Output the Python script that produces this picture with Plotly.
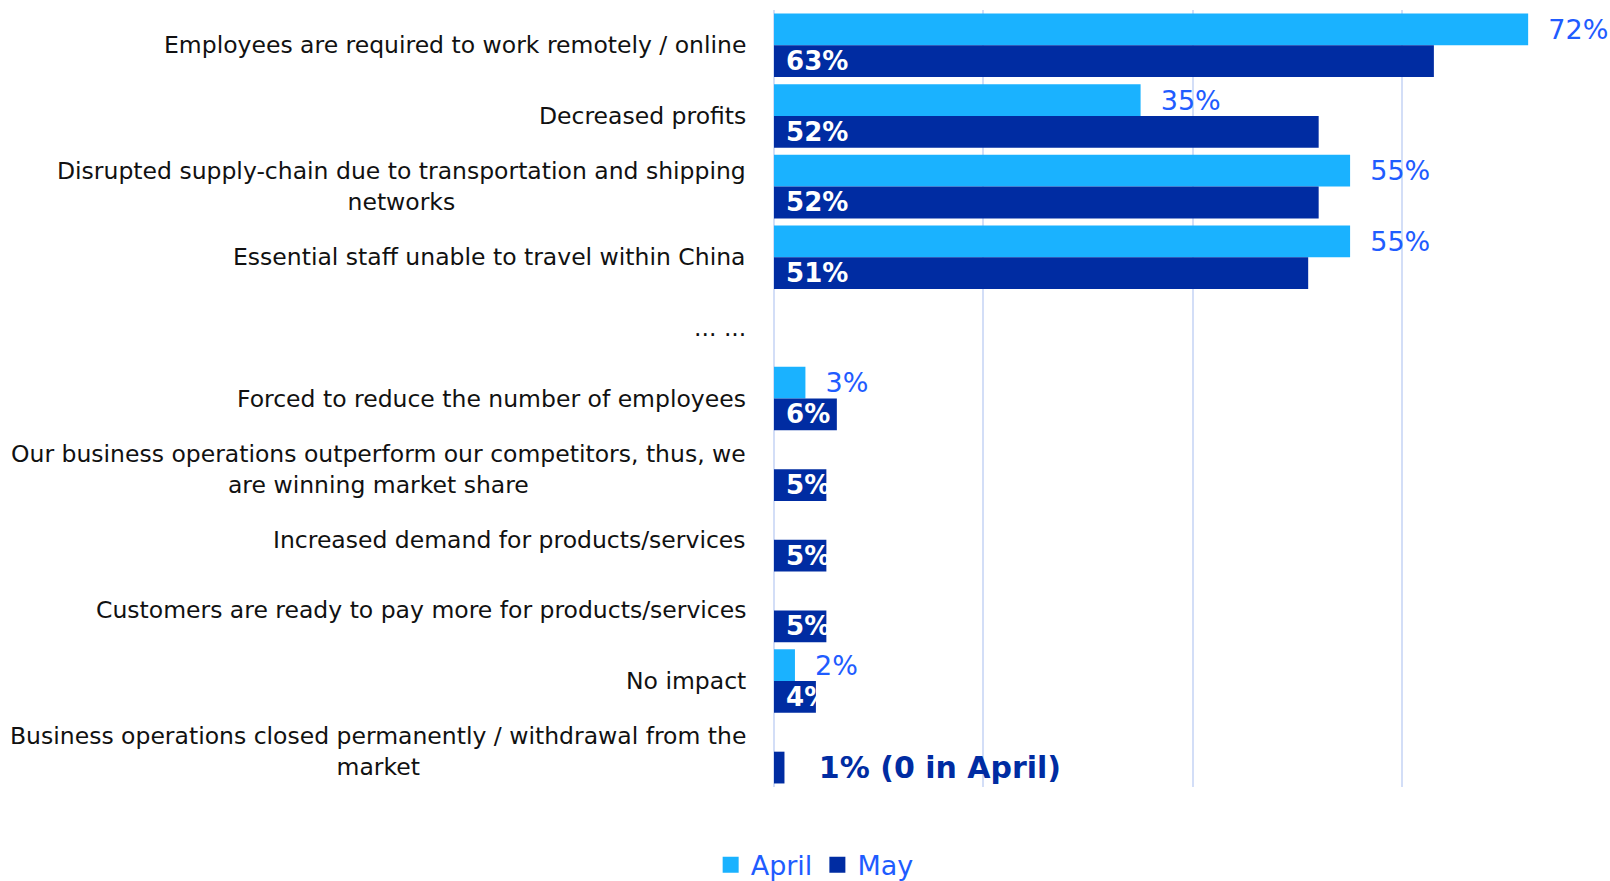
import plotly.graph_objects as go

categories = [
    "Employees are required to work remotely / online",
    "Decreased profits",
    "Disrupted supply-chain due to transportation and shipping<br>networks",
    "Essential staff unable to travel within China",
    "... ...",
    "Forced to reduce the number of employees",
    "Our business operations outperform our competitors, thus, we<br>are winning market share",
    "Increased demand for products/services",
    "Customers are ready to pay more for products/services",
    "No impact",
    "Business operations closed permanently / withdrawal from the<br>market",
]
april = [72, 35, 55, 55, None, 3, None, None, None, 2, None]
may = [63, 52, 52, 51, None, 6, 5, 5, 5, 4, 1]
may_notes = ["", "", "", "", "", "", "", "", "", "", " (0 in April)"]
series_names = ["April", "May"]
grid_ticks = [0, 20, 40, 60]

APRIL_COLOR = "#1ab2ff"
MAY_COLOR = "#002ca2"
LABEL_BLUE = "#1f5cff"
FONT = "DejaVu Sans"
NB = "\u00a0"

april_text = [f"{NB}{NB}{v}%" if v is not None else "" for v in april]
may_text = []
may_pos = []
for v, note in zip(may, may_notes):
    if v is None:
        may_text.append("")
        may_pos.append("inside")
    elif note:
        may_text.append(f"{NB*3}{v}%{note}")
        may_pos.append("outside")
    else:
        may_text.append(f"{NB}{v}%")
        may_pos.append("inside")

fig = go.Figure()
fig.add_trace(go.Bar(
    y=categories, x=april, name=series_names[0], orientation="h",
    marker=dict(color=APRIL_COLOR, line=dict(width=0)),
    text=april_text, textposition="outside", textangle=0,
    outsidetextfont=dict(family=FONT, size=27, color=LABEL_BLUE),
    cliponaxis=False, constraintext="none", hoverinfo="skip",
    showlegend=False,
))
fig.add_trace(go.Bar(
    y=categories, x=may, name=series_names[1], orientation="h",
    marker=dict(color=MAY_COLOR, line=dict(width=0)),
    text=may_text, textposition=may_pos, textangle=0,
    insidetextanchor="start",
    insidetextfont=dict(family=FONT, size=26, color="white", weight="bold"),
    outsidetextfont=dict(family=FONT, size=30, color=MAY_COLOR, weight="bold"),
    cliponaxis=False, constraintext="none", hoverinfo="skip",
    showlegend=False,
))
# legend entries (square swatches)
for name, col in zip(series_names, [APRIL_COLOR, MAY_COLOR]):
    fig.add_trace(go.Scatter(
        x=[None], y=[None], mode="markers", name=name,
        marker=dict(symbol="square", size=18, color=col),
        hoverinfo="skip", showlegend=True,
    ))

for c in categories:
    fig.add_annotation(
        x=0, xref="paper", y=c, yref="y", text=c,
        xanchor="right", yanchor="middle", align="center", xshift=-26,
        showarrow=False, font=dict(family=FONT, size=23.5, color="#111111"),
    )

fig.update_layout(
    width=1610, height=881,
    margin=dict(l=774, r=19, t=10, b=94),
    paper_bgcolor="white", plot_bgcolor="white",
    barmode="group", bargap=0.1, bargroupgap=0,
    font=dict(family=FONT),
    showlegend=True,
    legend=dict(
        orientation="h", xref="container", yref="container",
        x=0.506, y=0.018, xanchor="center", yanchor="middle",
        font=dict(family=FONT, size=27, color=LABEL_BLUE),
        itemsizing="trace", traceorder="normal", itemwidth=30,
    ),
    xaxis=dict(
        range=[0, 78], tickvals=grid_ticks, showticklabels=False,
        showgrid=True, gridcolor="#d3def7", gridwidth=1.5,
        zeroline=True, zerolinecolor="#d3def7", zerolinewidth=1.5,
        showline=False, fixedrange=True,
    ),
    yaxis=dict(
        autorange="reversed", showticklabels=False, showgrid=False,
        zeroline=False, showline=False, fixedrange=True,
    ),
)

fig.write_html(
    "out.html",
    config={"displayModeBar": False},
    post_script="document.body.style.margin='0';document.body.style.overflow='hidden';",
)
